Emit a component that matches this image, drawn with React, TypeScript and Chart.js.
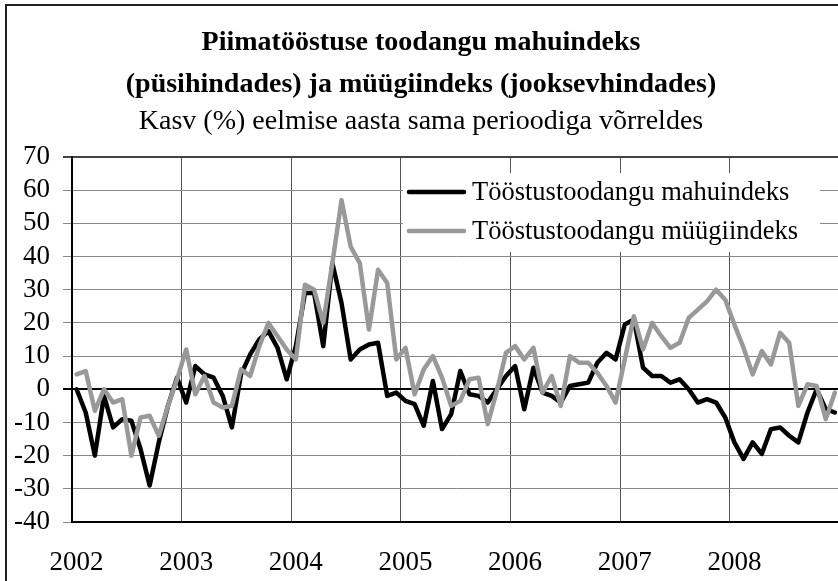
import React, { useEffect, useRef } from 'react';
import { Chart, registerables } from 'chart.js';

Chart.register(...registerables);

const titleLines = ['Piimatööstuse toodangu mahuindeks', '(püsihindades) ja müügiindeks (jooksevhindades)'];
const subtitleText = 'Kasv (%) eelmise aasta sama perioodiga võrreldes';

const years = ['2002', '2003', '2004', '2005', '2006', '2007', '2008'];
const monthsPerYear = ['01', '02', '03', '04', '05', '06', '07', '08', '09', '10', '11', '12'];
const categories: string[] = years.flatMap((y) => monthsPerYear.map((m) => `${y}-${m}`));

const volumeLabel = 'Tööstustoodangu mahuindeks';
const salesLabel = 'Tööstustoodangu müügiindeks';

// Tööstustoodangu mahuindeks (black), Jan 2002 .. Dec 2008
const volumeIndex = [
  0, -7, -20, -2, -11.5, -9, -9.5, -18, -29, -16, -5, 3.5,
  -4, 7, 4.5, 3.5, -2, -11.5, 4.5, 10.5, 15, 17.5, 12.5, 3,
  13, 29, 29, 13, 38, 26, 9, 12, 13.5, 14, -2, -1,
  -3.5, -4.5, -11, 2.5, -12, -7.5, 5.5, -1.5, -2, -4, 0, 4,
  7, -6, 6.5, -1, -2, -4, 1, 1.5, 2, 8, 11, 9,
  19.5, 21, 6.5, 4, 4, 2, 3, 0, -4, -3, -4, -8.5,
  -16, -21, -16, -19.5, -12, -11.5, -14, -16, -7, 0, -6, -7,
];

// Tööstustoodangu müügiindeks (grey), Jan 2002 .. Dec 2008
const salesIndex = [
  4.5, 5.5, -6.5, 0, -4, -3, -20, -8.5, -8, -14, -5, 3,
  12, -1.5, 4, -4, -5.5, -5, 6, 4, 13, 20, 16, 12,
  9, 31.5, 30, 20, 38, 57, 43, 38, 18, 36, 32, 9,
  12.5, -1.5, 6, 10, 3.5, -5, -3.5, 3, 3.5, -10.5, -0.5, 11,
  13, 9, 12.5, -1, 4, -5, 10, 8, 8, 5, 1, -4,
  9, 22, 12, 20, 16, 12.5, 14, 21.5, 24, 26.5, 30, 27,
  19.5, 12.5, 4.5, 11.5, 7.5, 17, 14, -5, 1.5, 1, -9, -1,
];

const yMin = -40;
const yMax = 70;
const yStep = 10;

const FONT = '"Liberation Serif", "Times New Roman", serif';

const boxLegend = {
  id: 'boxLegend',
  afterDatasetsDraw(chart: any) {
    const { ctx, chartArea } = chart;
    const x0 = chartArea.left + 331;
    const y0 = chartArea.top + 16;
    const w = 417;
    const h = 79;
    ctx.save();
    ctx.fillStyle = '#ffffff';
    ctx.fillRect(x0, y0, w, h);
    ctx.font = `26.5px ${FONT}`;
    ctx.textBaseline = 'middle';
    ctx.textAlign = 'left';
    chart.data.datasets.forEach((ds: any, i: number) => {
      const y = y0 + 19 + i * 39;
      ctx.strokeStyle = ds.borderColor;
      ctx.lineWidth = 4.5;
      ctx.lineCap = 'round';
      ctx.beginPath();
      ctx.moveTo(x0 + 6, y);
      ctx.lineTo(x0 + 61, y);
      ctx.stroke();
      ctx.fillStyle = '#000';
      ctx.fillText(ds.label, x0 + 69, y + 1);
    });
    ctx.restore();
  },
};

export default function App() {
  const ref = useRef<HTMLCanvasElement | null>(null);

  useEffect(() => {
    if (!ref.current) return;
    Chart.defaults.font.family = FONT;
    Chart.defaults.color = '#000';
    const chart = new Chart(ref.current, {
      type: 'line',
      data: {
        labels: categories,
        datasets: [
          {
            label: volumeLabel,
            data: volumeIndex,
            borderColor: '#000000',
            backgroundColor: '#000000',
            borderWidth: 4.5,
            pointRadius: 0,
            tension: 0,
            borderJoinStyle: 'round',
            borderCapStyle: 'round',
            order: 1,
          },
          {
            label: salesLabel,
            data: salesIndex,
            borderColor: '#999999',
            backgroundColor: '#999999',
            borderWidth: 4.5,
            pointRadius: 0,
            tension: 0,
            borderJoinStyle: 'round',
            borderCapStyle: 'round',
            order: 0,
          },
        ],
      },
      options: {
        animation: false,
        responsive: true,
        maintainAspectRatio: false,
        layout: { padding: { left: 0, right: 18, top: 0, bottom: 0 } },
        plugins: {
          legend: { display: false },
          tooltip: { enabled: false },
          title: {
            display: true,
            text: titleLines,
            color: '#000',
            font: { family: FONT, size: 28, weight: 'bold', lineHeight: 42 / 28 },
            padding: { top: 22, bottom: 0 },
          },
          subtitle: {
            display: true,
            text: subtitleText,
            color: '#000',
            font: { family: FONT, size: 28, weight: 'normal', lineHeight: 32 / 28 },
            padding: { top: 0, bottom: 19 },
          },
        },
        scales: {
          x: {
            type: 'category',
            offset: true,
            grid: {
              offset: true,
              drawTicks: false,
              color: (c: any) => (c.index % 12 === 0 ? '#555555' : 'rgba(0,0,0,0)'),
              lineWidth: 1,
            },
            border: { display: true, color: '#000', width: 2 },
            ticks: {
              autoSkip: false,
              maxRotation: 0,
              minRotation: 0,
              padding: 25,
              color: '#000',
              font: { family: FONT, size: 27 },
              callback: (_v: any, i: number) => (i % 12 === 0 ? years[i / 12] : ''),
            },
            afterFit: (s: any) => {
              s.height = 78;
            },
          },
          y: {
            min: yMin,
            max: yMax,
            ticks: {
              stepSize: yStep,
              autoSkip: false,
              padding: 13,
              color: '#000',
              font: { family: FONT, size: 27 },
            },
            grid: {
              tickLength: 9,
              color: (c: any) => {
                const v = c.tick ? c.tick.value : null;
                if (v === 0) return '#000000';
                if (v === yMax) return '#444444';
                return '#888888';
              },
              lineWidth: (c: any) => {
                const v = c.tick ? c.tick.value : null;
                if (v === 0 || v === yMax) return 2;
                return 1;
              },
            },
            border: { display: true, color: '#000', width: 2 },
            afterFit: (s: any) => {
              s.width = 72;
            },
          },
        },
      },
      plugins: [boxLegend],
    } as any);
    return () => chart.destroy();
  }, []);

  return (
    <div
      style={{
        position: 'fixed',
        left: 0,
        top: 0,
        width: 838,
        height: 581,
        overflow: 'hidden',
        background: '#fff',
      }}
    >
      <div style={{ position: 'absolute', left: 0, top: 0, width: 860, height: 600 }}>
        <canvas ref={ref} />
      </div>
      <div
        style={{
          position: 'absolute',
          left: 5,
          top: 4,
          width: 2000,
          height: 2000,
          borderLeft: '2px solid #222',
          borderTop: '2px solid #222',
          pointerEvents: 'none',
        }}
      />
    </div>
  );
}
